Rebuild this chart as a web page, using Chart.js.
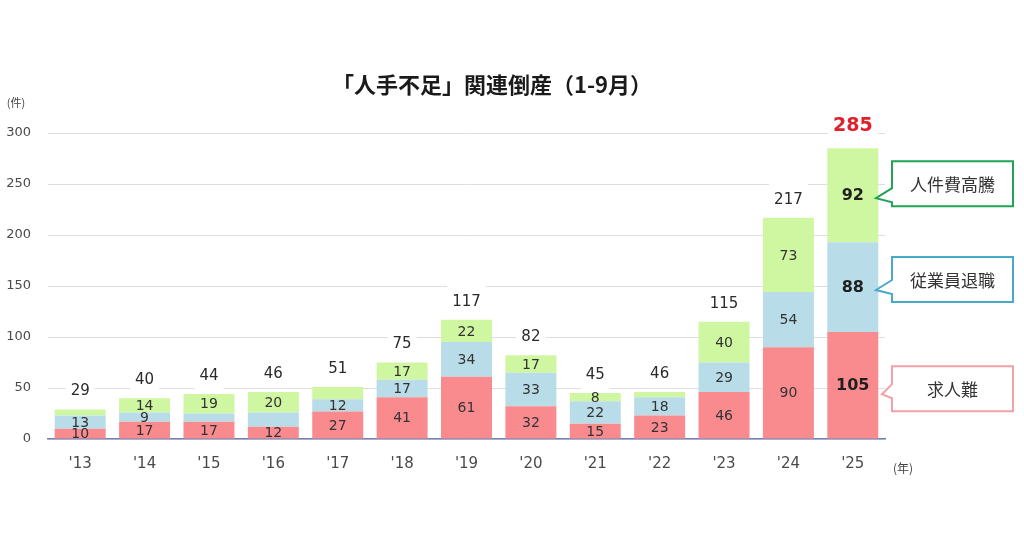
<!DOCTYPE html>
<html lang="ja">
<head>
<meta charset="utf-8">
<script src="https://cdn.jsdelivr.net/npm/chart.js@4/dist/chart.umd.min.js"></script>
<style>
  html, body { margin: 0; padding: 0; background: #fff; }
  #wrap { width: 1024px; height: 538px; }
</style>
</head>
<body>
<div id="wrap"><canvas id="chart" width="1024" height="538"></canvas></div>
<script>
// データ (1-9月, 件)
const years = ["'13", "'14", "'15", "'16", "'17", "'18", "'19", "'20", "'21", "'22", "'23", "'24", "'25"];
const kyujin = [10, 17, 17, 12, 27, 41, 61, 32, 15, 23, 46, 90, 105];     // 求人難
const taishoku = [13, 9, 8, 14, 12, 17, 34, 33, 22, 18, 29, 54, 88];       // 従業員退職
const jinkenhi = [6, 14, 19, 20, 12, 17, 22, 17, 8, 5, 40, 73, 92];        // 人件費高騰
const totals = [29, 40, 44, 46, 51, 75, 117, 82, 45, 46, 115, 217, 285];
const yTicks = [0, 50, 100, 150, 200, 250, 300];
// 数値ラベルを出さない区分 [年index, dataset index]
const hiddenLabels = [[0, 2], [2, 1], [3, 1], [4, 2], [9, 2]];

const NUM_FONT = '"DejaVu Sans", Verdana, sans-serif';
const JP_FONT = '"Noto Sans CJK JP", "Noto Sans", sans-serif';

const callouts = [
    { text: '人件費高騰', ds: 2, color: '#22a356' },
    { text: '従業員退職', ds: 1, color: '#4aa9c8' },
    { text: '求人難', ds: 0, color: '#f3a0a6' }
];

// 数値ラベル・タイトル・吹き出しの描画
const labelPlugin = {
    id: 'labels',
    afterDatasetsDraw(chart) {
        const ctx = chart.ctx;
        const last = years.length - 1;
        ctx.save();
        ctx.textAlign = 'center';
        ctx.textBaseline = 'middle';

        // 区分ごとの数値
        chart.data.datasets.forEach((ds, di) => {
            const meta = chart.getDatasetMeta(di);
            meta.data.forEach((bar, i) => {
                if (hiddenLabels.some(h => h[0] === i && h[1] === di)) return;
                const y = (bar.y + bar.base) / 2;
                if (i === last) {
                    ctx.font = 'bold 16px ' + NUM_FONT;
                    ctx.fillStyle = '#1f1f1f';
                } else {
                    ctx.font = '14px ' + NUM_FONT;
                    ctx.fillStyle = '#333';
                }
                ctx.fillText(ds.data[i], bar.x, y + 1);
            });
        });

        // 合計
        const top = chart.getDatasetMeta(2);
        top.data.forEach((bar, i) => {
            const y = chart.scales.y.getPixelForValue(totals[i]) - (i === last ? 22 : 18);
            ctx.font = i === last ? 'bold 19px ' + NUM_FONT : '15px ' + NUM_FONT;
            const w = ctx.measureText(String(totals[i])).width;
            ctx.fillStyle = '#fff';
            ctx.fillRect(bar.x - w / 2 - 5, y - 16, w + 10, 30);
            ctx.fillStyle = i === last ? '#e0202a' : '#2a2a2a';
            ctx.fillText(totals[i], bar.x, y);
        });

        // タイトル・単位
        ctx.fillStyle = '#1a1a1a';
        ctx.font = 'bold 22px ' + JP_FONT;
        ctx.fillText('「人手不足」関連倒産（1-9月）', 492, 85);
        ctx.fillStyle = '#444';
        ctx.font = '11px ' + JP_FONT;
        ctx.fillText('(件)', 16, 103);
        ctx.font = '12px ' + JP_FONT;
        ctx.fillText('(年)', 903, 468);

        // 吹き出し
        const lastBars = chart.data.datasets.map((_, di) => chart.getDatasetMeta(di).data[last]);
        callouts.forEach(c => {
            const bar = lastBars[c.ds];
            const cy = (bar.y + bar.base) / 2;
            const bx = 892, bw = 121, bh = 45;
            const by = c.ds === 0 ? cy - 19 : c.ds === 1 ? cy - 30 : cy - 34;
            const tipY = c.ds === 0 ? cy + 9 : cy + 3;
            const tipX = c.ds === 0 ? 882 : 876;
            ctx.beginPath();
            ctx.moveTo(bx, by);
            ctx.lineTo(bx + bw, by);
            ctx.lineTo(bx + bw, by + bh);
            ctx.lineTo(bx, by + bh);
            ctx.lineTo(bx, tipY + 4);
            ctx.lineTo(tipX, tipY);
            ctx.lineTo(bx, tipY - 10);
            ctx.closePath();
            ctx.fillStyle = '#fff';
            ctx.fill();
            ctx.lineWidth = 2;
            ctx.strokeStyle = c.color;
            ctx.stroke();
            ctx.fillStyle = '#333';
            ctx.font = '17px ' + JP_FONT;
            ctx.fillText(c.text, bx + bw / 2, by + bh / 2 + 1);
        });
        ctx.restore();
    }
};

function initChart() {
    const ctx = document.getElementById('chart').getContext('2d');
    new Chart(ctx, {
        type: 'bar',
        data: {
            labels: years,
            datasets: [
                { label: '求人難', data: kyujin, backgroundColor: '#f98b8f' },
                { label: '従業員退職', data: taishoku, backgroundColor: '#b8dde8' },
                { label: '人件費高騰', data: jinkenhi, backgroundColor: '#cff7a2' }
            ]
        },
        options: {
            responsive: false,
            animation: false,
            events: [],
            layout: { padding: { top: 133, right: 139, left: 0, bottom: 0 } },
            datasets: {
                bar: { categoryPercentage: 0.8, barPercentage: 0.99, borderWidth: 0 }
            },
            scales: {
                x: {
                    stacked: true,
                    afterFit(scale) { scale.height = 99; },
                    grid: { display: false, drawTicks: false },
                    border: { display: true, color: '#7480b4', width: 1.5 },
                    ticks: { color: '#4a4a4a', font: { size: 15, family: NUM_FONT }, padding: 16 }
                },
                y: {
                    stacked: true,
                    min: 0,
                    max: 300,
                    afterFit(scale) { scale.width = 48; },
                    afterBuildTicks(scale) { scale.ticks = yTicks.map(v => ({ value: v })); },
                    grid: { color: '#dedede', lineWidth: 1, drawTicks: false },
                    border: { display: false },
                    ticks: { color: '#4a4a4a', font: { size: 13, family: NUM_FONT }, padding: 17 }
                }
            },
            plugins: {
                legend: { display: false },
                tooltip: { enabled: false }
            }
        },
        plugins: [labelPlugin]
    });
}

window.addEventListener('load', initChart);
</script>
</body>
</html>
